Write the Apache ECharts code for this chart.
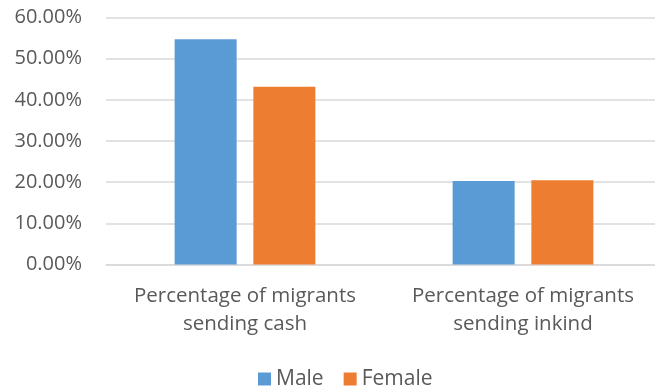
<!DOCTYPE html>
<html>
<head>
<meta charset="utf-8">
<script src="https://cdn.jsdelivr.net/npm/echarts@6/dist/echarts.min.js"></script>
<style>
  html, body { margin: 0; padding: 0; background: #fff; }
  #chart { width: 655px; height: 388px; }
</style>
</head>
<body>
<div id="chart"></div>
<script>
// Remittance categories and share of migrants (percent) by sex
const categories = ['Percentage of migrants\nsending cash', 'Percentage of migrants\nsending inkind'];
const maleValues = [54.7, 20.3];
const femaleValues = [43.2, 20.45];
const seriesNames = ['Male', 'Female'];

const FONT = '"Open Sans", sans-serif';
const TEXT = '#595959';

const chart = echarts.init(document.getElementById('chart'));
chart.setOption({
  animation: false,
  textStyle: { fontFamily: FONT },
  // plot area runs slightly past the right edge of the canvas
  grid: {
    left: 106, right: -7, top: 17.5, bottom: 123.5,
    containLabel: false, outerBoundsMode: 'none'
  },
  legend: {
    data: seriesNames,
    top: 368,
    left: 258,
    padding: 0,
    itemWidth: 13,
    itemHeight: 13,
    itemGap: 20,
    icon: 'rect',
    textStyle: { fontFamily: FONT, fontSize: 21, color: TEXT, lineHeight: 22 }
  },
  xAxis: {
    type: 'category',
    data: categories,
    axisLine: { lineStyle: { color: '#D9D9D9', width: 1.5 } },
    axisTick: { show: false },
    axisLabel: {
      fontFamily: FONT, fontSize: 20.5, color: TEXT, lineHeight: 28, margin: 18, interval: 0
    }
  },
  yAxis: {
    type: 'value',
    min: 0,
    max: 60,
    interval: 10,
    axisLine: { show: false },
    axisTick: { show: false },
    splitLine: { lineStyle: { color: '#D9D9D9', width: 1.5 } },
    axisLabel: {
      fontFamily: FONT, fontSize: 20, color: TEXT, margin: 24,
      formatter: v => v.toFixed(2) + '%'
    }
  },
  series: [
    {
      name: seriesNames[0], type: 'bar', data: maleValues,
      barWidth: 62, barGap: '27%',
      itemStyle: { color: '#5B9BD5' }
    },
    {
      name: seriesNames[1], type: 'bar', data: femaleValues,
      barWidth: 62, barGap: '27%',
      itemStyle: { color: '#ED7D31' }
    }
  ]
});
</script>
</body>
</html>
